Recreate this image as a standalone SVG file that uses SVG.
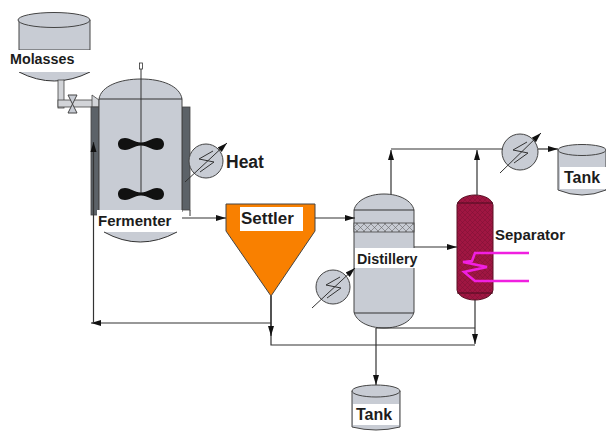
<svg xmlns="http://www.w3.org/2000/svg" width="606" height="431" viewBox="0 0 606 431">
<style>
text{font-family:"Liberation Sans",Arial,sans-serif;font-weight:700;fill:#1c1c1c}
.v{fill:#c8ccd4;stroke:#444;stroke-width:1}
.l{fill:none;stroke:#333;stroke-width:1}
.c{fill:none;stroke:#333;stroke-width:1.2}
.p{fill:#d2d4d8;stroke:#444;stroke-width:.8}
.j{fill:#5c6268;stroke:#444;stroke-width:.8}
.b{fill:#111}
.w{fill:#fff;stroke:none}
</style>
<defs>
<marker id="a" markerWidth="12" markerHeight="8" refX="10" refY="4" orient="auto" markerUnits="userSpaceOnUse"><path d="M0,1 L10,4 L0,7 Z" fill="#111"/></marker>
<pattern id="x" width="5" height="5" patternUnits="userSpaceOnUse"><rect width="5" height="5" fill="#a01642"/><path d="M0,0L5,5M5,0L0,5" stroke="#7c1034" stroke-width=".5"/></pattern>
<pattern id="y" width="7" height="7" patternUnits="userSpaceOnUse"><rect width="7" height="7" fill="#c8ccd4"/><path d="M0,0L7,7M7,0L0,7" stroke="#666" stroke-width=".6"/></pattern>
</defs>
<g id="molasses">
<path class="v" d="M19 20V50H90V20Z"/>
<path d="M19 72Q54 90 90 72Z" fill="#c8ccd4"/>
<path class="l" d="M19 72Q54 90 90 72"/>
<ellipse class="v" cx="54" cy="20" rx="36" ry="7.500"/>
<rect class="w" x="8" y="50" width="84" height="22"/>
<text x="10" y="64" font-size="14.300">Molasses</text>
<rect class="p" x="58" y="80" width="6" height="28"/>
<rect class="p" x="58" y="100" width="36" height="7"/>
<path class="p" d="M92 95L99 100V107H92Z"/>
<path d="M68 95H77L68 113H77Z" fill="#c8ccd4" stroke="#444"/>
</g>
<g id="fermenter">
<rect class="j" x="91" y="107" width="8" height="108"/>
<rect class="j" x="182" y="107" width="8" height="103"/>
<path class="l" d="M190 210V216"/>
<path class="v" d="M99 99C101 86 120 79 141 79C162 79 180 86 182 99V212H99Z"/>
<path class="l" d="M99 99H182"/>
<path class="l" d="M141 66V195"/>
<rect x="139.500" y="63" width="3" height="6" fill="#fff" stroke="#333" stroke-width=".8"/>
<path class="b" d="M141 142.500C134 142.500 131 138 125 138C120 138 118 141 118 144C118 147 120 150 125 150C131 150 134 145.500 141 145.500C148 145.500 151 150 157 150C162 150 164 147 164 144C164 141 162 138 157 138C151 138 148 142.500 141 142.500Z"/>
<path class="b" d="M141 192.500C134 192.500 131 188 125 188C120 188 118 191 118 194C118 197 120 200 125 200C131 200 134 195.500 141 195.500C148 195.500 151 200 157 200C162 200 164 197 164 194C164 191 162 188 157 188C151 188 148 192.500 141 192.500Z"/>
<rect class="w" x="97" y="210" width="85" height="22"/>
<path d="M104 232Q140 252 177 232Z" fill="#c8ccd4"/>
<path class="l" d="M104 232Q140 252 177 232"/>
<text x="98" y="226" font-size="15">Fermenter</text>
</g>
<g id="heat">
<circle class="v" cx="206" cy="161" r="17"/>
<path class="l" d="M185 182L227 143" marker-end="url(#a)"/>
<path class="l" d="M213 151L199 159L214 162L200 172"/>
<text x="226" y="168" font-size="17.500">Heat</text>
</g>
<g id="settler">
<path d="M226 204H315V231L271 296L226 231Z" fill="#f98000" stroke="#444"/>
<rect class="w" x="240" y="207" width="63" height="24"/>
<text x="241" y="224" font-size="17">Settler</text>
</g>
<g id="distillery">
<path class="v" d="M354 210C356 201 368 194 384 194C400 194 412 201 414 210V312C412 321 400 328 384 328C368 328 356 321 354 312Z"/>
<path class="l" d="M354 210H414M354 313H414"/>
<rect x="354" y="223" width="60" height="9" fill="url(#y)" stroke="#444" stroke-width=".8"/>
<rect class="w" x="355" y="248" width="63" height="20"/>
<text x="357" y="264" font-size="14.300">Distillery</text>
</g>
<g id="hx-distillery">
<circle class="v" cx="333" cy="287" r="17"/>
<path class="l" d="M312 308L355 268" marker-end="url(#a)"/>
<path class="l" d="M340 277L326 285L341 288L327 298"/>
</g>
<g id="separator">
<path d="M457 205C458 199 466 195 475 195C484 195 492 199 493 205V290C492 296 484 300 475 300C466 300 458 296 457 290Z" fill="url(#x)" stroke="#5a1024"/>
<path d="M457 203H493M457 293H493" fill="none" stroke="#4a0c1e"/>
<path d="M529 253H475L472 261L463 262L487 267L464 272L475 281H529" fill="none" stroke="#f020e0" stroke-width="2.500"/>
<text x="495" y="240" font-size="15">Separator</text>
</g>
<g id="hx-top">
<circle class="v" cx="520" cy="152" r="18"/>
<path class="l" d="M500 173L541 133" marker-end="url(#a)"/>
<path class="l" d="M527 142L513 150L528 153L514 163"/>
</g>
<g id="tank-right">
<path class="v" d="M558 150V190Q582 200 606 190V150Z"/>
<ellipse class="v" cx="582" cy="150" rx="24" ry="5.500"/>
<rect class="w" x="560" y="167" width="46" height="22"/>
<text x="564" y="183" font-size="16">Tank</text>
</g>
<g id="tank-bottom">
<path class="v" d="M352 391V427Q376 433 400 427V391Z"/>
<ellipse class="v" cx="376" cy="391" rx="24" ry="6"/>
<rect class="w" x="353" y="404" width="46" height="21"/>
<text x="356" y="420" font-size="16">Tank</text>
</g>
<g id="connectors">
<path class="c" d="M182 218H226" marker-end="url(#a)"/>
<path class="c" d="M315 218H355" marker-end="url(#a)"/>
<path class="c" d="M271 296V345H475"/>
<path class="c" d="M271 296V336" marker-end="url(#a)"/>
<path class="c" d="M271 323H91" marker-end="url(#a)"/>
<path class="c" d="M93.500 323V142" marker-end="url(#a)"/>
<path class="c" d="M391 194V150" marker-end="url(#a)"/>
<path class="c" d="M391 149H503"/>
<path class="c" d="M477 195V150" marker-end="url(#a)"/>
<path class="c" d="M538 149H558" marker-end="url(#a)"/>
<path class="c" d="M414 247H457" marker-end="url(#a)"/>
<path class="c" d="M475 300V344" marker-end="url(#a)"/>
<path class="c" d="M376 328V385" marker-end="url(#a)"/>
<path class="c" d="M376 328H475"/>
</g>
</svg>
